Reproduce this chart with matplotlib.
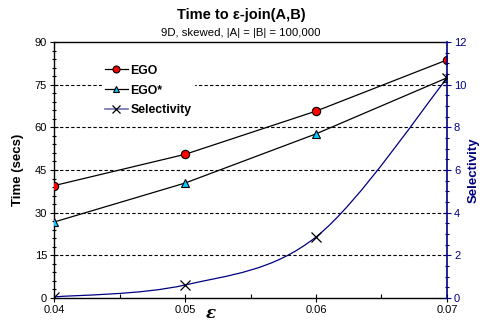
import matplotlib
matplotlib.use("Agg")
import matplotlib.pyplot as plt
import numpy as np
from matplotlib.path import Path
from matplotlib.patches import PathPatch
from matplotlib.lines import Line2D
from matplotlib.ticker import MultipleLocator

plt.rcParams['font.family'] = ['Liberation Sans', 'DejaVu Sans']

eps = [0.04, 0.05, 0.06, 0.07]
ego = [39.5, 50.5, 65.7, 83.7]
ego_star = [26.7, 40.4, 57.7, 77.4]
selectivity = [0.05, 0.61, 2.86, 10.3]
tick_labels = ['0.04', '0.05', '0.06', '0.07']

NAVY = '#000080'
MS = 6

fig = plt.figure(figsize=(4.82, 3.22), dpi=100)
ax = fig.add_axes([54/482, 1-298/322, (447-54)/482, (298-42)/322])
ax2 = ax.twinx()

ax.set_xlim(0.04, 0.07)
ax.set_ylim(0, 90)
ax2.set_ylim(0, 12)

for y in [15, 30, 45, 60, 75]:
    ax.axhline(y, color='black', lw=0.8, ls=(0, (3, 2)), zorder=0)

ax.plot(eps, ego, color='black', lw=0.9, marker='o', ms=MS, mfc='red', mec='black', mew=0.8, zorder=5)
ax.plot(eps, ego_star, color='black', lw=0.9, marker='^', ms=MS, mfc='#00CCFF', mec='black', mew=0.8, zorder=5)

# smoothed selectivity line (Catmull-Rom style bezier)
x = np.array(eps); y = np.array(selectivity)
verts = [(x[0], y[0])]
codes = [Path.MOVETO]
n = len(x)
for i in range(n - 1):
    p0 = (x[i-1], y[i-1]) if i > 0 else (x[i], y[i])
    p1 = (x[i], y[i]); p2 = (x[i+1], y[i+1])
    p3 = (x[i+2], y[i+2]) if i + 2 < n else (x[i+1], y[i+1])
    t = 1/6
    c1 = (p1[0] + (p2[0]-p0[0])*t, p1[1] + (p2[1]-p0[1])*t)
    c2 = (p2[0] - (p3[0]-p1[0])*t, p2[1] - (p3[1]-p1[1])*t)
    verts += [c1, c2, p2]
    codes += [Path.CURVE4]*3
ax2.add_patch(PathPatch(Path(verts, codes), fill=False, edgecolor=NAVY, lw=0.9, zorder=4))
ax2.plot(eps, selectivity, ls='none', marker='x', ms=MS+1, mec='black', mew=0.9, zorder=6)

# axes styling
ax.xaxis.set_minor_locator(MultipleLocator(0.005))
ax.yaxis.set_major_locator(MultipleLocator(15))
ax.yaxis.set_minor_locator(MultipleLocator(3))
ax2.yaxis.set_major_locator(MultipleLocator(2))
ax2.yaxis.set_minor_locator(MultipleLocator(0.5))
ax.set_xticks(eps)
ax.set_xticklabels(tick_labels)

ax.tick_params(axis='x', which='major', direction='inout', length=6, width=0.8, labelsize=8, pad=2)
ax.tick_params(axis='x', which='minor', direction='in', length=3, width=0.8)
ax.tick_params(axis='y', which='major', direction='inout', length=6, width=0.8, labelsize=8, pad=2)
ax.tick_params(axis='y', which='minor', direction='inout', length=3, width=0.8)
ax2.tick_params(axis='y', which='major', direction='inout', length=6, width=0.8, labelsize=8, pad=2,
                colors=NAVY)
ax2.tick_params(axis='y', which='minor', direction='inout', length=3, width=0.8, colors=NAVY)

for s in ['left', 'bottom', 'top']:
    ax.spines[s].set_linewidth(1.0)
ax.spines['right'].set_visible(False)
ax2.spines['right'].set_color(NAVY)
ax2.spines['right'].set_linewidth(1.2)
for s in ['left', 'top', 'bottom']:
    ax2.spines[s].set_visible(False)

ax.set_ylabel('Time (secs)', fontsize=9.5, fontweight='bold')
ax.yaxis.set_label_coords(-(54-24)/393, 0.5)
ax2.set_ylabel('Selectivity', fontsize=9.5, fontweight='bold', color=NAVY, rotation=90)
ax2.yaxis.set_label_coords((468-54)/393, 0.5)
ax.text((211-54)/393, -(313-298)/256, 'ε', transform=ax.transAxes, ha='center', va='center',
        fontsize=12, fontweight='bold', style='italic', family=['DejaVu Serif'])

fig.text(0.5, 1-15/322, 'Time to ε-join(A,B)', ha='center', va='center', fontsize=10.5, fontweight='bold')
fig.text(0.5, 1-33/322, '9D, skewed, |A| = |B| = 100,000', ha='center', va='center', fontsize=8.2)

handles = [
    Line2D([], [], color='black', lw=0.9, marker='o', ms=5, mfc='red', mec='black', mew=0.8),
    Line2D([], [], color='black', lw=0.9, marker='^', ms=5, mfc='#00CCFF', mec='black', mew=0.8),
    Line2D([], [], color='#7070B8', lw=1.2, marker='x', ms=6, mec='black', mew=0.9),
]
leg = ax2.legend(handles, ['EGO', 'EGO*', 'Selectivity'], loc='upper left',
                 bbox_to_anchor=((96-54)/393, 1-(56-42)/256), frameon=True, fancybox=False, edgecolor='white',
                 facecolor='white', framealpha=1, prop={'weight': 'bold', 'size': 8.8},
                 handlelength=1.9, handletextpad=0.2, labelspacing=0.65, borderpad=0.2)
leg.set_zorder(10)

fig.savefig('out.png', dpi=100)
